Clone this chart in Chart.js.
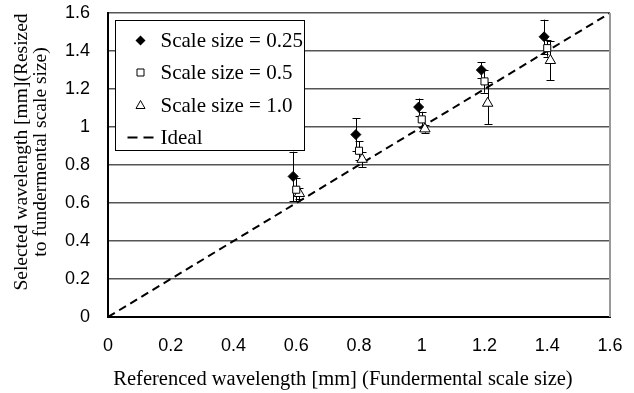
<!DOCTYPE html>
<html>
<head>
<meta charset="utf-8">
<script src="https://cdn.jsdelivr.net/npm/chart.js@4.4.1/dist/chart.umd.min.js"></script>
<style>
  html, body { margin: 0; padding: 0; background: #fff; }
  #wrap { width: 634px; height: 393px; }
</style>
</head>
<body>
<div id="wrap"><canvas id="waveChart" width="634" height="393"></canvas></div>
<script>
// Series names
const seriesNames = ['Scale size = 0.25', 'Scale size = 0.5', 'Scale size = 1.0', 'Ideal'];

// Referenced wavelength (points are staggered a little in the original)
const x025 = [0.59, 0.79, 0.99, 1.19, 1.39];
const x05 = [0.60, 0.80, 1.00, 1.20, 1.40];
const x10 = [0.61, 0.81, 1.01, 1.21, 1.41];

// Selected wavelength and error bar half-lengths
const y025 = [0.74, 0.96, 1.105, 1.30, 1.475];
const err025 = [0.13, 0.085, 0.045, 0.04, 0.09];
const y05 = [0.67, 0.875, 1.04, 1.24, 1.415];
const err05 = [0.06, 0.05, 0.04, 0.06, 0.045];
const y10 = [0.65, 0.83, 0.99, 1.125, 1.35];
const err10 = [0.03, 0.04, 0.02, 0.11, 0.105];

// Ideal line
const idealX = [0, 1.6];
const idealY = [0, 1.6];

// Tick labels and axis titles
const tickLabels = ['0', '0.2', '0.4', '0.6', '0.8', '1', '1.2', '1.4', '1.6'];
const xTitle = 'Referenced wavelength [mm] (Fundermental scale size)';
const yTitle = ['Selected wavelength [mm](Resized', 'to fundermental scale size)'];

const serif = "'Liberation Serif', 'Times New Roman', serif";
const sans = "'Liberation Sans', Arial, sans-serif";

function toPoints(xs, ys) {
    return xs.map((x, i) => ({ x: x, y: ys[i] }));
}

function tickText(value) {
    const idx = Math.round(value / 0.2);
    return tickLabels[idx] !== undefined ? tickLabels[idx] : '';
}

// Error bars, drawn under the markers
const errorBars = {
    id: 'errorBars',
    beforeDatasetsDraw(chart) {
        const ctx = chart.ctx;
        const yScale = chart.scales.y;
        ctx.save();
        ctx.strokeStyle = '#000';
        ctx.lineWidth = 1;
        chart.data.datasets.forEach((ds, i) => {
            if (!ds.errors) return;
            const meta = chart.getDatasetMeta(i);
            meta.data.forEach((pt, j) => {
                const v = ds.data[j].y;
                const e = ds.errors[j];
                const x = Math.round(pt.x) + 0.5;
                const top = yScale.getPixelForValue(v + e);
                const bot = yScale.getPixelForValue(v - e);
                ctx.beginPath();
                ctx.moveTo(x, top);
                ctx.lineTo(x, bot);
                ctx.moveTo(x - 4, Math.round(top) + 0.5);
                ctx.lineTo(x + 4, Math.round(top) + 0.5);
                ctx.moveTo(x - 4, Math.round(bot) + 0.5);
                ctx.lineTo(x + 4, Math.round(bot) + 0.5);
                ctx.stroke();
            });
        });
        ctx.restore();
    }
};

// Right frame line, axis titles and the boxed legend inside the plot
const frameAndLegend = {
    id: 'frameAndLegend',
    afterDraw(chart) {
        const ctx = chart.ctx;
        const area = chart.chartArea;
        ctx.save();
        ctx.strokeStyle = '#999';
        ctx.lineWidth = 2;
        ctx.beginPath();
        ctx.moveTo(area.right, area.top);
        ctx.lineTo(area.right, area.bottom);
        ctx.stroke();

        // axis titles
        ctx.fillStyle = '#000';
        ctx.textAlign = 'center';
        ctx.textBaseline = 'middle';
        ctx.font = '20.5px ' + serif;
        ctx.fillText(xTitle, (area.left + area.right) / 2 - 16, area.bottom + 63);
        ctx.font = '19.5px ' + serif;
        const midY = (area.top + area.bottom) / 2 - 13;
        yTitle.forEach((line, i) => {
            ctx.save();
            ctx.translate(area.left - 86 + i * 18.5, midY);
            ctx.rotate(-Math.PI / 2);
            ctx.fillText(line, 0, 0);
            ctx.restore();
        });

        // legend
        const bx = Math.round(area.left) + 7.5;
        const by = Math.round(area.top) + 7.5;
        const bw = 189;
        const bh = 130;
        ctx.fillStyle = '#fff';
        ctx.fillRect(bx, by, bw, bh);
        ctx.strokeStyle = '#000';
        ctx.lineWidth = 1;
        ctx.strokeRect(bx, by, bw, bh);

        ctx.font = '21px ' + serif;
        ctx.textAlign = 'left';
        ctx.fillStyle = '#000';
        const rowY = [20, 52, 85, 117];
        const mx = bx + 25;
        seriesNames.forEach((name, i) => {
            const y = by + rowY[i];
            ctx.beginPath();
            if (i === 0) {
                ctx.moveTo(mx, y - 5);
                ctx.lineTo(mx + 5, y);
                ctx.lineTo(mx, y + 5);
                ctx.lineTo(mx - 5, y);
                ctx.closePath();
                ctx.fill();
            } else if (i === 1) {
                ctx.rect(mx - 3.5, y - 3.5, 7, 7);
                ctx.stroke();
            } else if (i === 2) {
                ctx.moveTo(mx, y - 5);
                ctx.lineTo(mx + 4.5, y + 3);
                ctx.lineTo(mx - 4.5, y + 3);
                ctx.closePath();
                ctx.stroke();
            } else {
                ctx.lineWidth = 2;
                ctx.setLineDash([10, 6]);
                ctx.moveTo(bx + 12, y);
                ctx.lineTo(bx + 38, y);
                ctx.stroke();
                ctx.setLineDash([]);
                ctx.lineWidth = 1;
            }
            ctx.fillText(name, bx + 45, y + 1);
        });
        ctx.restore();
    }
};

document.addEventListener('DOMContentLoaded', function () {
    const ctx = document.getElementById('waveChart');

    new Chart(ctx, {
        type: 'scatter',
        data: {
            datasets: [
                {
                    label: seriesNames[0],
                    data: toPoints(x025, y025),
                    errors: err025,
                    pointStyle: 'rectRot',
                    pointRadius: 5,
                    backgroundColor: '#000',
                    borderColor: '#000',
                    borderWidth: 1
                },
                {
                    label: seriesNames[1],
                    data: toPoints(x05, y05),
                    errors: err05,
                    pointStyle: 'rect',
                    pointRadius: 5,
                    backgroundColor: '#fff',
                    borderColor: '#000',
                    borderWidth: 1
                },
                {
                    label: seriesNames[2],
                    data: toPoints(x10, y10),
                    errors: err10,
                    pointStyle: 'triangle',
                    pointRadius: 6,
                    backgroundColor: '#fff',
                    borderColor: '#000',
                    borderWidth: 1
                },
                {
                    label: seriesNames[3],
                    type: 'line',
                    data: toPoints(idealX, idealY),
                    borderColor: '#000',
                    borderWidth: 2,
                    borderDash: [8, 5],
                    pointRadius: 0,
                    fill: false
                }
            ]
        },
        options: {
            responsive: false,
            animation: false,
            layout: {
                padding: { left: 0, right: 24, top: 13, bottom: 2 }
            },
            plugins: {
                legend: { display: false },
                tooltip: { enabled: false }
            },
            scales: {
                x: {
                    type: 'linear',
                    min: 0,
                    max: 1.6,
                    ticks: {
                        stepSize: 0.2,
                        color: '#000',
                        font: { family: sans, size: 18 },
                        padding: 18,
                        maxRotation: 0,
                        callback: tickText
                    },
                    grid: { display: false, drawTicks: false },
                    border: { display: true, color: '#000', width: 2 },
                    afterFit(scale) {
                        scale.height = 74;
                        scale.paddingLeft = 0;
                        scale.paddingRight = 0;
                    }
                },
                y: {
                    type: 'linear',
                    min: 0,
                    max: 1.6,
                    ticks: {
                        stepSize: 0.2,
                        color: '#000',
                        font: { family: sans, size: 18 },
                        padding: 18,
                        callback: tickText
                    },
                    grid: { color: '#555', lineWidth: 1.5, drawTicks: false },
                    border: { display: true, color: '#000', width: 2 },
                    afterFit(scale) {
                        scale.width = 108;
                        scale.paddingTop = 0;
                        scale.paddingBottom = 0;
                    }
                }
            }
        },
        plugins: [errorBars, frameAndLegend]
    });
});
</script>
</body>
</html>
